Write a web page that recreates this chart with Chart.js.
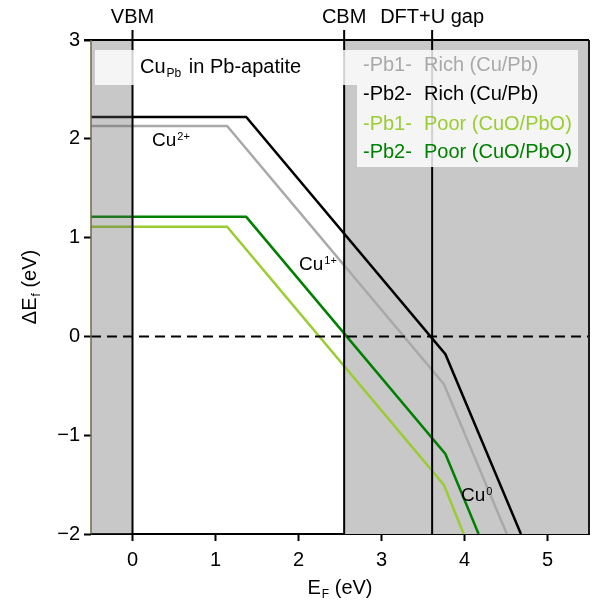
<!DOCTYPE html>
<html>
<head>
<meta charset="utf-8">
<script src="https://cdn.jsdelivr.net/npm/chart.js@4"></script>
<style>
  body { margin: 0; background: #fff; }
  #wrap { width: 594px; height: 604px; }
</style>
</head>
<body>
<div id="wrap"><canvas id="chart" width="594" height="604"></canvas></div>
<script>
// Data
const xTicks = [0, 1, 2, 3, 4, 5];
const yTicks = [-2, -1, 0, 1, 2, 3];

// band edges (eV) and their labels on top
const bandEdges = [0, 2.55, 3.61];
const bandLabels = ['VBM', 'CBM', 'DFT+U gap'];

// formation energy lines: kinks at charge transition levels
const richPb1X = [-0.5, 1.14, 3.75, 4.51];
const richPb1Y = [2.13, 2.13, -0.48, -2.0];
const richPb2X = [-0.5, 1.37, 3.77, 4.68];
const richPb2Y = [2.22, 2.22, -0.18, -2.0];
const poorPb1X = [-0.5, 1.14, 3.75, 3.99];
const poorPb1Y = [1.11, 1.11, -1.50, -2.0];
const poorPb2X = [-0.5, 1.37, 3.77, 4.17];
const poorPb2Y = [1.21, 1.21, -1.19, -2.0];

const seriesNames = ['-Pb1- Rich (Cu/Pb)', '-Pb2- Rich (Cu/Pb)', '-Pb1- Poor (CuO/PbO)', '-Pb2- Poor (CuO/PbO)'];
const seriesColors = ['#a9a9a9', '#000000', '#9acd32', '#008000'];

const FONT = '"Liberation Sans", Arial, Helvetica, sans-serif';

function toPoints(xs, ys) {
  return xs.map((x, i) => ({ x: x, y: ys[i] }));
}

const datasets = [
  [richPb1X, richPb1Y],
  [richPb2X, richPb2Y],
  [poorPb1X, poorPb1Y],
  [poorPb2X, poorPb2Y]
].map((s, i) => ({
  label: seriesNames[i],
  data: toPoints(s[0], s[1]),
  showLine: true,
  borderColor: seriesColors[i],
  backgroundColor: seriesColors[i],
  borderWidth: 2.5,
  pointRadius: 0,
  tension: 0
}));

// draw "base" + small sub/superscript text, returns end x
function richText(ctx, x, y, base, small, mode, size) {
  ctx.font = size + 'px ' + FONT;
  ctx.textBaseline = 'middle';
  ctx.textAlign = 'left';
  ctx.fillText(base, x, y);
  let w = ctx.measureText(base).width;
  ctx.font = Math.round(size * 0.6) + 'px ' + FONT;
  const dy = mode === 'sub' ? size * 0.35 : -size * 0.22;
  ctx.fillText(small, x + w + 1, y + dy);
  return x + w + 1 + ctx.measureText(small).width;
}

const decorPlugin = {
  id: 'decor',
  beforeDatasetsDraw(chart) {
    const { ctx, chartArea: a, scales: { x } } = chart;
    ctx.save();
    // conduction band region shading
    const xc = x.getPixelForValue(bandEdges[1]);
    ctx.fillStyle = '#c8c8c8';
    ctx.fillRect(xc, a.top, a.right - xc, a.bottom - a.top);
    ctx.restore();
  },
  afterDatasetsDraw(chart) {
    const { ctx, chartArea: a, scales: { x, y } } = chart;
    ctx.save();
    // valence band region shading (over lines)
    const x0 = x.getPixelForValue(bandEdges[0]);
    ctx.fillStyle = 'rgba(98,98,98,0.35)';
    ctx.fillRect(a.left, a.top, x0 - a.left, a.bottom - a.top);

    // dashed zero line
    const yz = y.getPixelForValue(0);
    ctx.strokeStyle = '#000';
    ctx.lineWidth = 2;
    ctx.setLineDash([10, 6]);
    ctx.beginPath();
    ctx.moveTo(a.left, yz);
    ctx.lineTo(a.right, yz);
    ctx.stroke();
    ctx.setLineDash([]);

    // band edge lines
    bandEdges.forEach((v) => {
      const px = x.getPixelForValue(v);
      ctx.beginPath();
      ctx.moveTo(px, a.top - 10);
      ctx.lineTo(px, a.bottom);
      ctx.stroke();
    });

    // spines top / right / left
    ctx.lineWidth = 2;
    ctx.strokeStyle = '#000';
    ctx.beginPath();
    ctx.moveTo(a.left - 7, a.top);
    ctx.lineTo(a.right, a.top);
    ctx.stroke();
    ctx.strokeStyle = '#1a1a1a';
    ctx.beginPath();
    ctx.moveTo(a.right, a.top);
    ctx.lineTo(a.right, a.bottom);
    ctx.stroke();
    ctx.strokeStyle = '#6f6a45';
    ctx.lineWidth = 1.5;
    ctx.beginPath();
    ctx.moveTo(a.left, a.top);
    ctx.lineTo(a.left, a.bottom);
    ctx.stroke();

    // legend boxes
    ctx.fillStyle = 'rgba(255,255,255,0.82)';
    ctx.fillRect(95, 50, 262, 35);
    ctx.fillRect(357, 50, 221, 117);

    ctx.fillStyle = '#000';
    const t = richText(ctx, 140, 67, 'Cu', 'Pb', 'sub', 20);
    ctx.font = '20px ' + FONT;
    ctx.fillText(' in Pb-apatite', t + 2, 67);

    const rowY = [65, 94, 124, 152];
    seriesNames.forEach((name, i) => {
      ctx.fillStyle = seriesColors[i];
      ctx.font = '20px ' + FONT;
      ctx.textBaseline = 'middle';
      ctx.textAlign = 'left';
      const parts = name.split(' ');
      ctx.fillText(parts[0], 363, rowY[i]);
      ctx.fillText(parts.slice(1).join(' '), 424, rowY[i]);
    });

    // charge state labels
    ctx.fillStyle = '#000';
    richText(ctx, 152, 141, 'Cu', '2+', 'sup', 19);
    richText(ctx, 299, 265, 'Cu', '1+', 'sup', 19);
    richText(ctx, 461, 496, 'Cu', '0', 'sup', 19);

    // band labels on top
    ctx.font = '20px ' + FONT;
    ctx.textAlign = 'center';
    ctx.textBaseline = 'middle';
    bandLabels.forEach((lab, i) => {
      ctx.fillText(lab, x.getPixelForValue(bandEdges[i]), 17);
    });
    ctx.restore();

    // axis titles
    ctx.save();
    ctx.fillStyle = '#000';
    const size = 20;
    ctx.font = size + 'px ' + FONT;
    let w1 = ctx.measureText('E').width;
    let w3 = ctx.measureText(' (eV)').width;
    ctx.font = '12px ' + FONT;
    let w2 = ctx.measureText('F').width;
    let total = w1 + 1 + w2 + w3;
    let sx = (a.left + a.right) / 2 - total / 2;
    let e = richText(ctx, sx, 588, 'E', 'F', 'sub', size);
    ctx.font = size + 'px ' + FONT;
    ctx.fillText(' (eV)', e, 588);

    ctx.translate(30, (a.top + a.bottom) / 2);
    ctx.rotate(-Math.PI / 2);
    ctx.font = size + 'px ' + FONT;
    w1 = ctx.measureText('\u0394E').width;
    ctx.font = '12px ' + FONT;
    w2 = ctx.measureText('f').width;
    total = w1 + 1 + w2 + w3;
    e = richText(ctx, -total / 2, 0, '\u0394E', 'f', 'sub', size);
    ctx.font = size + 'px ' + FONT;
    ctx.fillText(' (eV)', e, 0);
    ctx.restore();
  }
};

new Chart(document.getElementById('chart'), {
  type: 'scatter',
  data: { datasets: datasets },
  options: {
    responsive: false,
    animation: false,
    devicePixelRatio: 1,
    layout: { padding: { top: 40, right: 5, left: 0, bottom: 0 } },
    plugins: {
      legend: { display: false },
      tooltip: { enabled: false }
    },
    scales: {
      x: {
        type: 'linear',
        min: -0.5,
        max: 5.5,
        afterBuildTicks: (scale) => { scale.ticks = xTicks.map((v) => ({ value: v })); },
        afterFit: (scale) => { scale.height = 70; },
        ticks: {
          color: '#000',
          font: { size: 20, family: FONT },
          padding: 7,
          maxRotation: 0,
          autoSkip: false
        },
        grid: {
          drawOnChartArea: false,
          tickLength: 7,
          tickColor: '#000',
          tickWidth: 2
        },
        border: { color: '#000', width: 2 }
      },
      y: {
        type: 'linear',
        min: -2,
        max: 3,
        afterBuildTicks: (scale) => { scale.ticks = yTicks.map((v) => ({ value: v })); },
        afterFit: (scale) => { scale.width = 91; },
        ticks: {
          color: '#000',
          font: { size: 20, family: FONT },
          padding: 4,
          autoSkip: false,
          callback: (v) => (v < 0 ? '\u2212' + Math.abs(v) : String(v))
        },
        grid: {
          drawOnChartArea: false,
          tickLength: 7,
          tickColor: '#000',
          tickWidth: 2
        },
        border: { display: false }
      }
    }
  },
  plugins: [decorPlugin]
});
</script>
</body>
</html>
